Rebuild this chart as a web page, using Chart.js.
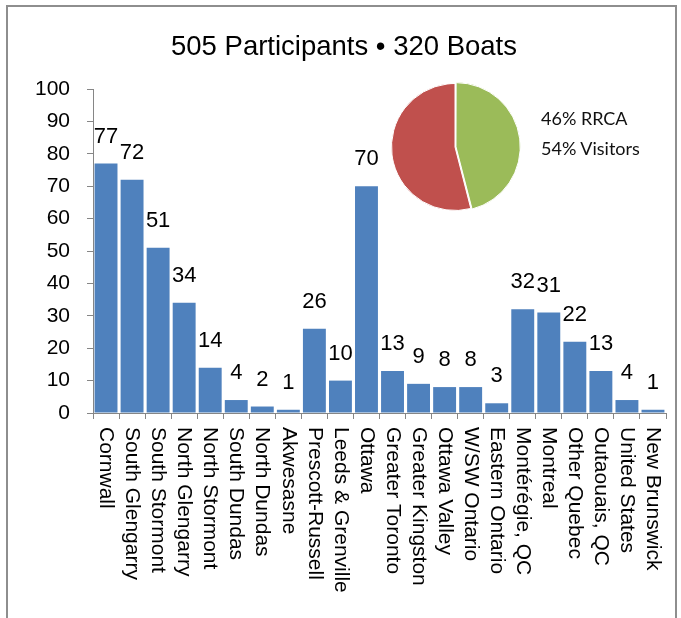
<!DOCTYPE html>
<html lang="en">
<head>
    <meta charset="UTF-8">
    <title>Participants by Region</title>
    <script src="https://cdn.jsdelivr.net/npm/chart.js"></script>
    <style>
        html, body { margin: 0; padding: 0; background: #fff; overflow: hidden; }
        .frame {
            position: absolute; left: 6px; top: 5px; width: 667px; height: 700px;
            border: 2px solid #8e8e8e;
        }
        #barChart { position: absolute; left: 0; top: 0; }
        #pieChart { position: absolute; left: 389px; top: 81px; }
        .pie-legend {
            position: absolute; left: 541px; top: 103px;
            font-family: Lato, "Open Sans", sans-serif; font-size: 18px; line-height: 30px; color: #111;
        }
    </style>
</head>
<body>
    <div class="frame"></div>
    <canvas id="barChart" width="681" height="618"></canvas>
    <canvas id="pieChart" width="132" height="132"></canvas>
    <div class="pie-legend">
        <div id="pieLabel0"></div>
        <div id="pieLabel1"></div>
    </div>

    <script>
        // participants per home region
        const regions = [
            'Cornwall', 'South Glengarry', 'South Stormont', 'North Glengarry', 'North Stormont',
            'South Dundas', 'North Dundas', 'Akwesasne', 'Prescott-Russell', 'Leeds & Grenville',
            'Ottawa', 'Greater Toronto', 'Greater Kingston', 'Ottawa Valley', 'W/SW Ontario',
            'Eastern Ontario', 'Montérégie, QC', 'Montreal', 'Other Quebec', 'Outaouais, QC',
            'United States', 'New Brunswick'
        ];
        const participants = [77, 72, 51, 34, 14, 4, 2, 1, 26, 10, 70, 13, 9, 8, 8, 3, 32, 31, 22, 13, 4, 1];
        const yTicks = [0, 10, 20, 30, 40, 50, 60, 70, 80, 90, 100];

        // member vs visitor split
        const splitLabels = ['RRCA', 'Visitors'];
        const splitPercent = [46, 54];

        const axisGray = '#868686';
        const font = 'Liberation Sans, Arial, sans-serif';

        // value above each bar
        const valueLabels = {
            id: 'valueLabels',
            afterDatasetsDraw(chart) {
                const ctx = chart.ctx;
                const meta = chart.getDatasetMeta(0);
                ctx.save();
                ctx.font = '22px ' + font;
                ctx.fillStyle = '#000';
                ctx.textAlign = 'center';
                ctx.textBaseline = 'middle';
                meta.data.forEach((bar, i) => {
                    ctx.fillText(String(participants[i]), bar.x, bar.y - 27);
                });
                ctx.restore();
            }
        };

        // category names, rotated to read downward
        const regionLabels = {
            id: 'regionLabels',
            afterDraw(chart) {
                const ctx = chart.ctx;
                const xs = chart.scales.x;
                ctx.save();
                ctx.font = '21px ' + font;
                ctx.fillStyle = '#000';
                ctx.textAlign = 'left';
                ctx.textBaseline = 'middle';
                regions.forEach((name, i) => {
                    ctx.save();
                    ctx.translate(xs.getPixelForValue(i), xs.top + 14);
                    ctx.rotate(Math.PI / 2);
                    ctx.fillText(name, 0, 0);
                    ctx.restore();
                });
                ctx.restore();
            }
        };

        new Chart(document.getElementById('barChart'), {
            type: 'bar',
            data: {
                labels: regions,
                datasets: [{
                    data: participants,
                    backgroundColor: '#4F81BD',
                    borderWidth: 0,
                    barPercentage: 0.88,
                    categoryPercentage: 1
                }]
            },
            options: {
                responsive: false,
                animation: false,
                // left padding keeps the title centred over the frame
                layout: { padding: { left: 22, right: 15, top: 0, bottom: 0 } },
                plugins: {
                    legend: { display: false },
                    tooltip: { enabled: false },
                    title: {
                        display: true,
                        text: '505 Participants \u2022 320 Boats',
                        color: '#000',
                        font: { family: font, size: 27.5, weight: 'normal' },
                        padding: { top: 30.5, bottom: 25.5 }
                    }
                },
                scales: {
                    x: {
                        grid: { display: true, drawOnChartArea: false, tickLength: 6, color: axisGray, offset: true },
                        border: { color: axisGray, width: 1 },
                        ticks: { display: false },
                        afterFit(scale) { scale.height = 205; }
                    },
                    y: {
                        min: 0,
                        max: 100,
                        afterBuildTicks(scale) { scale.ticks = yTicks.map(v => ({ value: v })); },
                        grid: { drawOnChartArea: false, tickLength: 6, color: axisGray },
                        border: { color: axisGray, width: 1 },
                        ticks: { color: '#000', padding: 17, font: { family: font, size: 21 } },
                        afterFit(scale) { scale.width = 71; }
                    }
                }
            },
            plugins: [valueLabels, regionLabels]
        });

        new Chart(document.getElementById('pieChart'), {
            type: 'pie',
            data: {
                labels: splitLabels,
                datasets: [{
                    data: splitPercent,
                    backgroundColor: ['#9BBB59', '#C0504D'],
                    borderColor: '#fff',
                    borderWidth: 1,
                    offset: [4, 0]
                }]
            },
            options: {
                responsive: false,
                animation: false,
                plugins: { legend: { display: false }, tooltip: { enabled: false } }
            }
        });

        splitLabels.forEach((name, i) => {
            document.getElementById('pieLabel' + i).textContent = splitPercent[i] + '% ' + name;
        });
    </script>
</body>
</html>
